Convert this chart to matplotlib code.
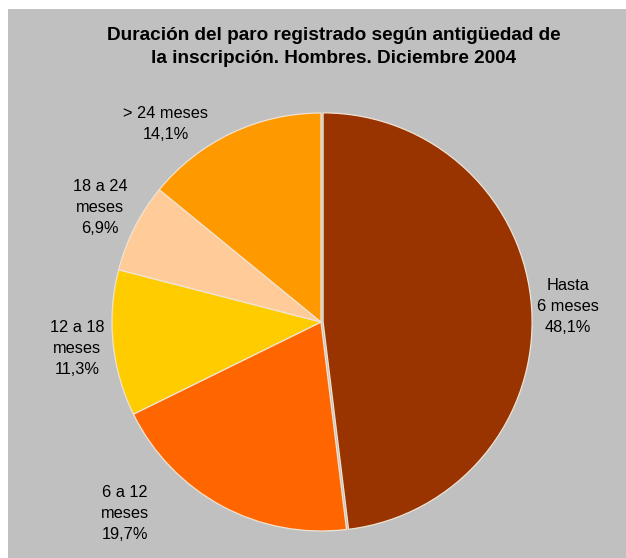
import matplotlib.pyplot as plt
from matplotlib.patches import Rectangle

plt.rcParams["font.family"] = ["Liberation Sans", "DejaVu Sans"]

# data
labels = ["Hasta\n6 meses", "6 a 12\nmeses", "12 a 18\nmeses", "18 a 24\nmeses", "> 24 meses"]
values = [48.1, 19.7, 11.3, 6.9, 14.1]
colors = ["#993300", "#FF6600", "#FFCC00", "#FFCC99", "#FF9900"]
explode = [0.01, 0, 0, 0, 0]
title = "Duración del paro registrado según antigüedad de\nla inscripción. Hombres. Diciembre 2004"

# label positions in units of pie radius, relative to pie centre
label_pos = [(1.181, 0.076), (-0.938, -0.914), (-1.167, -0.129), (-1.057, 0.548), (-0.743, 0.948)]

W, H = 626, 558
cx, cy, r = 321, 322, 209  # pie centre / radius in pixels (from top-left)

fig = plt.figure(figsize=(W / 100, H / 100), dpi=100)
fig.patch.set_facecolor("white")
bg = Rectangle((8 / W, 0), 1 - 8 / W, (H - 9) / H, transform=fig.transFigure,
               facecolor="#C0C0C0", edgecolor="none")
bg.set_zorder(-5)
fig.add_artist(bg)

ax = fig.add_axes([0, 0, 1, 1])
ax.set_facecolor("none")
ax.set_zorder(1)

wedges, _ = ax.pie(
    values,
    colors=colors,
    explode=explode,
    startangle=90,
    counterclock=False,
    wedgeprops=dict(edgecolor="#EFE3D3", linewidth=0.9),
)

ax.set_xlim(-cx / r, (W - cx) / r)
ax.set_ylim(-(H - cy) / r, cy / r)
ax.set_aspect("equal")
ax.axis("off")

for lab, v, (x, y) in zip(labels, values, label_pos):
    txt = f"{lab}\n{v:.1f}%".replace(".", ",")
    ax.text(x, y, txt, ha="center", va="center", fontsize=11.8,
            linespacing=1.5, color="black")

ax.text((334 - cx) / r, (cy - 47) / r, title, ha="center", va="center",
        fontsize=13.7, fontweight="bold", linespacing=1.5)

fig.savefig("out.png", dpi=100)
